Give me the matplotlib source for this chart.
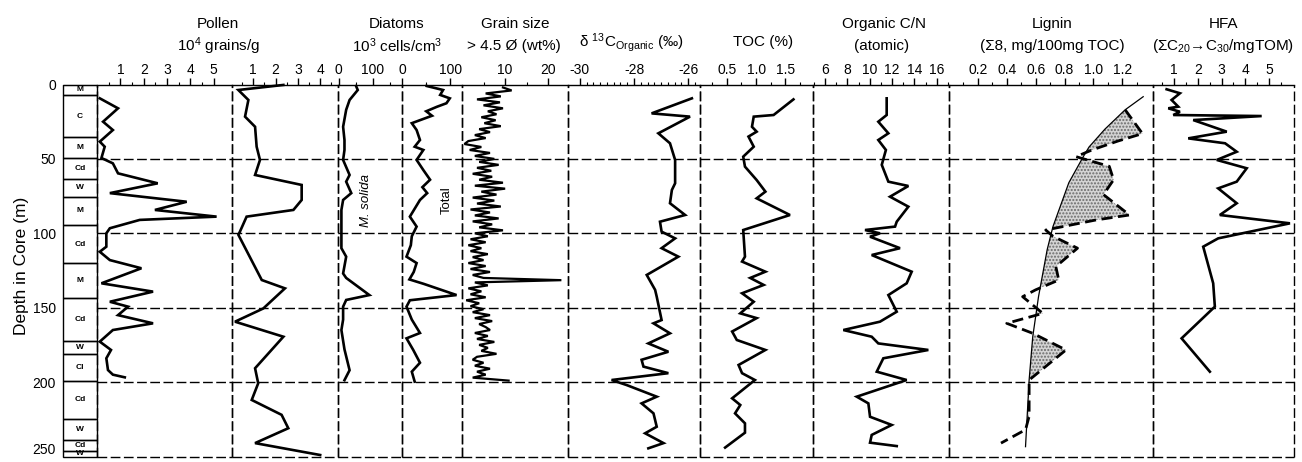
import numpy as np
import matplotlib.pyplot as plt
from matplotlib.patches import Rectangle

plt.rcParams['font.family'] = ['Liberation Sans', 'DejaVu Sans']
plt.rcParams['mathtext.fontset'] = 'custom'
plt.rcParams['mathtext.rm'] = 'Liberation Sans'
plt.rcParams['mathtext.it'] = 'Liberation Sans:italic'
plt.rcParams['mathtext.bf'] = 'Liberation Sans:bold'

W, H = 1302, 462
TOP, BOT = 84.5, 456.5   # pixel rows of 0 m and 250 m
DASH = (0, (7, 2.5))

# ---- lithology units ----
litho_top = [0, 7.3, 35.5, 49.6, 63.7, 75.4, 94.6, 119.8, 143.7, 172.2, 181.1, 199, 224.8, 238.9, 246]
litho_bot = litho_top[1:] + [250]
litho_label = ['M', 'C', 'M', 'Cd', 'W', 'M', 'Cd', 'M', 'Cd', 'W', 'Cl', 'Cd', 'W', 'Cd', 'W']

# ---- pollen ----
pollen_a_depth = [9.3, 16, 25, 30.6, 38.4, 41.8, 49.4, 53, 59.7, 66.4, 73, 78.8, 84.3, 88.8, 91, 96.6,
                  100, 109, 112.4, 118, 123.5, 133.6, 139.2, 146, 149.3, 155, 160.5, 165, 172.8, 178.4,
                  184, 191.9, 195, 196.8]
pollen_a = [0.12, 0.9, 0.26, 0.68, 0.12, 0.33, 0.19, 0.68, 0.9, 2.6, 0.55, 3.84, 2.48, 5.12, 1.83, 0.55,
            0.4, 0.4, 0.12, 0.55, 1.9, 0.19, 2.4, 0.55, 1.33, 0.9, 2.4, 0.68, 0.12, 0.6,
            0.4, 0.47, 0.68, 1.19]

pollen_b_depth = [0.3, 3.7, 10.4, 21.6, 28.4, 41.8, 50.7, 60.8, 67.5, 77.6, 84.3, 88.8, 98.9, 101,
                  131.4, 137, 150.5, 159.4, 169.5, 190.7, 200.8, 212, 222, 231, 241, 249]
pollen_b = [2.35, 0.33, 0.78, 0.63, 1.08, 1.15, 1.3, 1.08, 3.17, 3.17, 2.8, 0.7, 0.4, 0.33,
            1.38, 2.42, 1.45, 0.18, 2.35, 1.08, 1.22, 0.93, 2.27, 2.57, 1.08, 4.0]

# ---- diatoms ----
solida_depth = [1, 3.7, 10.4, 17, 28.4, 37.3, 44, 50.7, 60.8, 65.3, 73, 77.6, 84.3, 110, 115.7, 127,
                130, 141.5, 144.8, 149.3, 158, 165, 178, 192, 198.7]
solida = [51, 56, 32, 22, 13, 17, 17, 13, 32, 22, 37, 13, 8, 8, 22, 13,
          22, 90, 22, 13, 13, 8, 17, 32, 17]

total_depth = [1, 3.7, 7, 9.3, 12.6, 15, 18, 21, 26, 30.6, 37.3, 41.8, 44, 50.7, 57.5, 64, 69, 73,
               77.6, 88.8, 95.5, 102, 108, 115.7, 120, 126, 131, 134, 141.5, 145, 149.3, 158, 167,
               170.6, 178.4, 187, 193, 199.7]
total = [51, 85, 79, 99, 92, 72, 50, 62, 20, 30, 37, 26, 44, 30, 44, 58, 42, 52,
         37, 16, 30, 20, 18, 9, 30, 24, 15, 45, 113, 16, 9, 20, 37,
         9, 23, 37, 20, 26]

# ---- grain size ----
grain_depth = [2, 4, 6, 8, 10, 12, 14, 16, 18, 20, 22, 24, 26, 28, 30, 32, 34, 36, 38, 40,
               42, 44, 46, 48, 50, 52, 54, 56, 58, 60, 62, 64, 66, 68, 70, 72, 74, 76, 78, 80,
               82, 84, 86, 88, 90, 92, 94, 96, 98, 100, 102, 104, 106, 108, 110, 112, 114, 116,
               118, 120, 122, 124, 126, 128, 130, 131.5, 133, 135, 137, 139, 141, 143, 145, 147,
               149, 151, 153, 155, 157, 159, 161, 163, 165, 167, 169, 171, 173, 175, 177, 179,
               181, 183, 185, 187, 189, 191, 193, 195, 197, 199]
grain = [9.5, 11.5, 5.5, 9.0, 3.5, 8.8, 5.0, 9.5, 6.0, 8.0, 4.5, 7.8, 5.2, 9.0, 4.0, 6.5, 3.0, 5.5, 1.5, 0.6,
         4.5, 1.8, 6.5, 3.0, 7.5, 4.0, 8.5, 3.5, 6.8, 2.5, 7.0, 4.0, 9.5, 3.0, 10.0, 4.5, 8.0, 2.5, 7.5, 3.5,
         9.0, 2.0, 6.5, 3.0, 8.5, 2.5, 7.0, 4.0, 9.5, 3.0, 6.0, 2.0, 5.5, 1.5, 4.5, 2.0, 6.0, 2.5,
         5.0, 1.5, 5.5, 2.0, 6.5, 2.5, 5.0, 23.0, 3.0, 6.0, 1.5, 4.5, 2.0, 5.5, 1.0, 4.0,
         2.0, 5.0, 2.5, 6.5, 3.0, 7.0, 4.0, 5.5, 6.5, 3.0, 6.0, 3.5, 7.5, 4.0, 6.0, 4.5,
         8.0, 3.5, 2.5, 5.0, 3.0, 6.5, 3.5, 5.5, 2.5, 10.8]

# ---- organic geochemistry ----
d13c_depth = [9.3, 19.4, 21.6, 32.8, 39.5, 50.7, 66.4, 70.9, 79.8, 87.7, 92.2, 98.9, 103.4, 110,
              115.7, 128, 138, 142.6, 158.3, 160.5, 167.2, 174, 179.6, 185, 189.6, 194, 198.6,
              202, 209.8, 214.3, 221, 230, 234.4, 241, 244.5]
d13c = [-25.86, -27.35, -25.93, -27.10, -26.67, -26.48, -26.48, -26.60, -26.67, -26.11, -27.04,
        -26.98, -26.48, -26.98, -26.36, -27.53, -27.22, -27.16, -26.98, -27.28, -26.67, -27.47,
        -26.73, -27.72, -27.65, -26.73, -28.83, -28.27, -27.16, -27.72, -27.28, -27.16, -27.59,
        -26.91, -27.47]

toc_depth = [10, 20.5, 21.6, 28.4, 31.7, 35, 41.8, 48.5, 55.2, 64.2, 72, 76.5, 87.7, 97.8, 115.7,
             119, 125.8, 130, 134.7, 140.3, 146, 153.8, 157, 166, 171.7, 178.4, 188.5, 194, 198.6,
             210.9, 215.4, 221, 227.7, 234, 244]
toc = [1.64, 1.30, 0.96, 0.93, 1.01, 0.87, 0.96, 0.78, 0.81, 1.01, 1.16, 1.01, 1.58, 0.78, 0.81,
       0.76, 1.16, 0.90, 1.13, 0.76, 0.96, 0.73, 1.01, 0.59, 0.67, 1.16, 0.70, 0.76, 0.98,
       0.59, 0.73, 0.64, 0.81, 0.81, 0.47]

cn_depth = [9.3, 20.5, 25, 32.8, 37.3, 44, 54, 65.3, 68.2, 75.4, 82.1, 92.2, 95.5, 97.8, 100,
            102.3, 110, 114.6, 125.8, 133.6, 141.5, 152.7, 159.4, 165, 169.5, 174, 178.4, 184,
            193, 198.6, 209.8, 214.3, 223.3, 228.8, 235.5, 240.7, 243]
cn = [11.52, 11.52, 10.77, 11.67, 10.77, 11.45, 11.08, 11.67, 13.46, 11.82, 13.46, 12.42, 12.27,
      9.58, 10.92, 10.03, 12.71, 10.18, 13.76, 13.31, 11.67, 12.42, 10.92, 7.64, 10.18, 10.77,
      15.25, 11.22, 10.63, 13.31, 8.84, 9.88, 10.03, 11.97, 10.18, 10.03, 12.42]

lignin_trend_depth = [8.2, 17, 30, 42, 48.5, 66, 95.5, 111, 142.6, 169.5, 198.6, 243.4]
lignin_trend = [1.345, 1.22, 1.08, 0.97, 0.93, 0.83, 0.72, 0.68, 0.62, 0.58, 0.555, 0.53]
lignin_depth = [17, 33, 38, 44, 48.5, 55, 64, 74, 87.7, 91, 97.8, 102, 110, 122.4, 131.4, 138,
                142.6, 153.8, 160.5, 167.2, 178.4, 198.6, 223, 232, 241]
lignin = [1.22, 1.34, 1.17, 0.99, 0.88, 1.11, 1.14, 1.07, 1.25, 1.02, 0.67, 0.72, 0.89, 0.74,
          0.76, 0.60, 0.51, 0.65, 0.40, 0.58, 0.81, 0.555, 0.555, 0.53, 0.36]

hfa_depth = [3.2, 5.9, 10.4, 14.9, 16.0, 18.3, 20.5, 21.2, 23.9, 31.7, 36.2, 39.5, 45.2, 50.7,
             56.3, 65.3, 69.8, 79.8, 87.7, 93.3, 103.4, 109, 133.6, 149.3, 170.6, 193]
hfa = [0.69, 1.25, 0.90, 1.18, 0.76, 1.25, 0.97, 4.69, 1.81, 3.22, 1.60, 3.15, 3.64, 2.80,
       4.06, 3.64, 2.86, 3.64, 2.93, 5.88, 2.86, 2.23, 2.65, 2.72, 1.32, 2.51]


fig = plt.figure(figsize=(W / 100, H / 100), dpi=100)


def px_axes(x0, x1):
    return fig.add_axes([x0 / W, 1 - BOT / H, (x1 - x0) / W, (BOT - TOP) / H])


def make_panel(x0, x1, xlim, major, labels, minor):
    ax = px_axes(x0, x1)
    ax.set_xlim(*xlim)
    ax.set_ylim(250, 0)
    ax.patch.set_alpha(0)
    for s in ['left', 'right', 'bottom']:
        ax.spines[s].set_visible(False)
    ax.spines['top'].set_linewidth(1)
    ax.xaxis.tick_top()
    ax.set_xticks(major)
    ax.set_xticklabels(labels)
    ax.set_xticks(minor, minor=True)
    ax.tick_params(axis='x', which='major', direction='out', length=5, width=1,
                   labelsize=10, pad=0.5)
    ax.tick_params(axis='x', which='minor', direction='out', length=2.5, width=0.8)
    ax.set_yticks([])
    for d in [50, 100, 150, 200, 250]:
        ax.axhline(d, color='k', lw=1, ls=DASH, clip_on=False)
    for xv in xlim:
        ax.axvline(xv, color='k', lw=1, ls=DASH, clip_on=False)
    return ax


def draw(ax, vals, depth, lw=1.9):
    ax.plot(vals, depth, color='k', lw=lw, solid_joinstyle='miter', clip_on=False)


# lithology column
axl = px_axes(63, 97)
axl.set_xlim(0, 1)
axl.set_ylim(250, 0)
for s in ['left', 'right', 'bottom']:
    axl.spines[s].set_visible(False)
axl.set_xticks([])
axl.set_yticks([0, 50, 100, 150, 200, 250])
axl.tick_params(axis='y', length=0, labelsize=10, pad=5)
# keep the bottom depth label inside the figure
axl.get_yticklabels()[-1].set_va('bottom')
for t, b, lab in zip(litho_top, litho_bot, litho_label):
    axl.add_patch(Rectangle((0, t), 1, b - t, fill=False, lw=1, ec='k', clip_on=False))
    axl.text(0.5, (t + b) / 2, lab, ha='center', va='center', fontsize=6, fontweight='bold')

fig.text(22 / W, 1 - 266 / H, 'Depth in Core (m)', rotation=90, ha='center', va='center',
         fontsize=12.5)

# panels
ax = make_panel(97, 232, (0, 5.78), [1, 2, 3, 4, 5], ['1', '2', '3', '4', '5'],
                [0.5, 1.5, 2.5, 3.5, 4.5])
draw(ax, pollen_a, pollen_a_depth)

ax = make_panel(232, 338, (0.045, 4.8), [1, 2, 3, 4], ['1', '2', '3', '4'],
                [0.5, 1.5, 2.5, 3.5, 4.5])
draw(ax, pollen_b, pollen_b_depth)

ax = make_panel(338, 401.7, (-2, 185), [0, 100], ['0', '100'], [50, 150])
draw(ax, solida, solida_depth)
ax.text(80, 78, 'M. solida', rotation=90, ha='center', va='center', fontsize=9.5, style='italic')

ax = make_panel(401.7, 462.3, (-1, 125), [0, 100], ['0', '100'], [50])
draw(ax, total, total_depth)
ax.text(92, 78, 'Total', rotation=90, ha='center', va='center', fontsize=9.5)

ax = make_panel(462.3, 568.3, (0.1, 24.6), [10, 20], ['10', '20'], [5, 15])
draw(ax, grain, grain_depth, lw=1.6)

ax = make_panel(568.3, 700, (-30.43, -25.56), [-30, -28, -26], ['-30', '-28', '-26'],
                [-29.5, -29, -28.5, -27.5, -27, -26.5, -25.75, -29.75, -29.25, -28.75,
                 -28.25, -27.75, -27.25, -26.75, -26.25])
draw(ax, d13c, d13c_depth)

ax = make_panel(700, 813.3, (0.04, 1.98), [0.5, 1.0, 1.5], ['0.5', '1.0', '1.5'],
                [0.25, 0.75, 1.25, 1.75])
draw(ax, toc, toc_depth)

ax = make_panel(813.3, 949, (4.95, 17.1), [6, 8, 10, 12, 14, 16],
                ['6', '8', '10', '12', '14', '16'], [5, 7, 9, 11, 13, 15, 17])
draw(ax, cn, cn_depth)

ax = make_panel(949, 1153.3, (0.0, 1.415), [0.2, 0.4, 0.6, 0.8, 1.0, 1.2],
                ['0.2', '0.4', '0.6', '0.8', '1.0', '1.2'], [0.1, 0.3, 0.5, 0.7, 0.9, 1.1, 1.3])
trend_at = np.interp(lignin_depth, lignin_trend_depth, lignin_trend)
lig = np.array(lignin)
ax.fill_betweenx(lignin_depth, trend_at, lig, where=lig > trend_at, interpolate=True,
                 facecolor='#d4d4d4', edgecolor='#6a6a6a', hatch='.....', lw=0)
ax.plot(lignin_trend, lignin_trend_depth, color='k', lw=0.9)
ax.plot(lignin, lignin_depth, color='k', lw=2.0, ls=(0, (4, 2)))

ax = make_panel(1153.3, 1294, (0.13, 6.05), [1, 2, 3, 4, 5], ['1', '2', '3', '4', '5'],
                [0.5, 1.5, 2.5, 3.5, 4.5, 5.5])
draw(ax, hfa, hfa_depth)


# headers
def header(x, y, s, size=11):
    fig.text(x / W, 1 - y / H, s, ha='center', va='center', fontsize=size)


header(218, 24, 'Pollen')
header(218, 46, r'10$^4$ grains/g')
header(397, 24, 'Diatoms')
header(397, 46, r'10$^3$ cells/cm$^3$')
header(515, 24, 'Grain size')
header(514, 46, '> 4.5 Ø (wt%)')
header(631, 43, r'δ $^{13}$C$_{\rm Organic}$ (‰)')
header(763, 42, 'TOC (%)')
header(884, 24, 'Organic C/N')
header(882, 46, '(atomic)')
header(1052, 24, 'Lignin')
header(1052, 46, '(Σ8, mg/100mg TOC)')
header(1223, 24, 'HFA')
header(1223, 46, r'(ΣC$_{20}$→C$_{30}$/mgTOM)')

fig.savefig('out.png', dpi=100)
